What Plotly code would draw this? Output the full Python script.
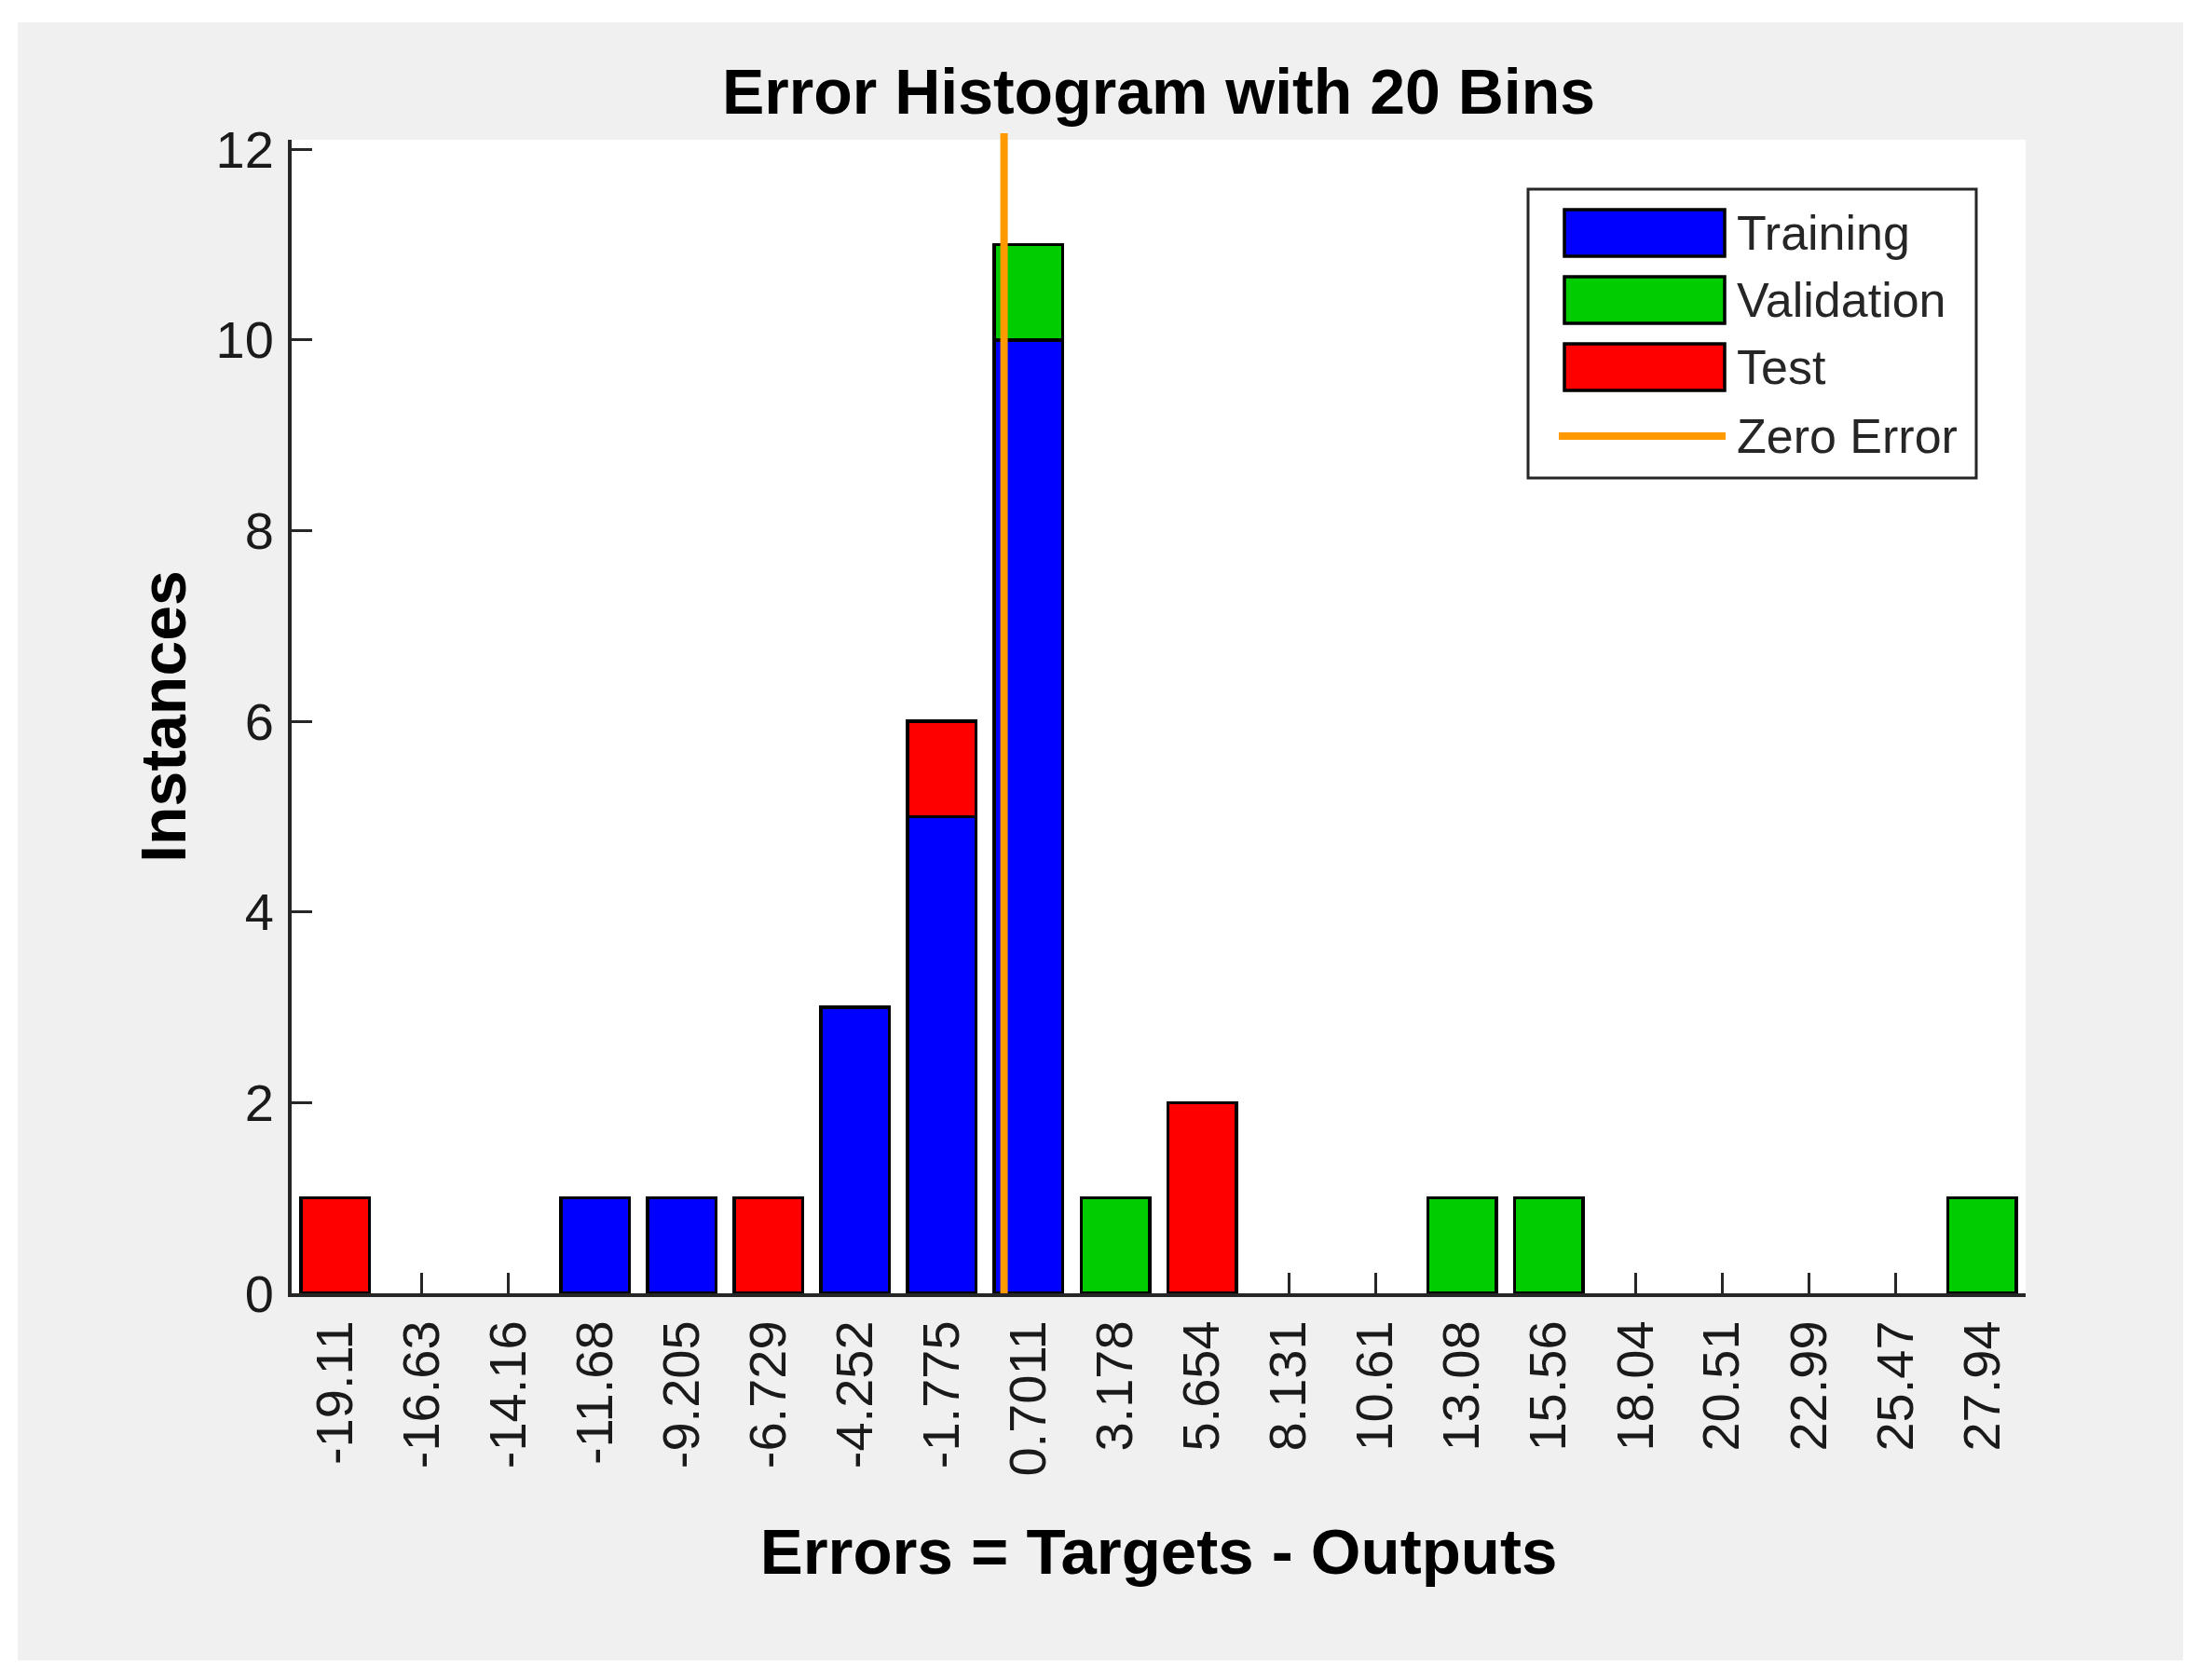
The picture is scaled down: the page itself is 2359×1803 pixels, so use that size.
import plotly.graph_objects as go

# ---------------- data ----------------
bin_labels = ["-19.11", "-16.63", "-14.16", "-11.68", "-9.205", "-6.729", "-4.252",
              "-1.775", "0.7011", "3.178", "5.654", "8.131", "10.61", "13.08",
              "15.56", "18.04", "20.51", "22.99", "25.47", "27.94"]
training   = [0, 0, 0, 1, 1, 0, 3, 5, 10, 0, 0, 0, 0, 0, 0, 0, 0, 0, 0, 0]
validation = [0, 0, 0, 0, 0, 0, 0, 0, 1, 1, 0, 0, 0, 1, 1, 0, 0, 0, 0, 1]
test       = [1, 0, 0, 0, 0, 1, 0, 1, 0, 0, 2, 0, 0, 0, 0, 0, 0, 0, 0, 0]
zero_error = 0.0
y_ticks = [0, 2, 4, 6, 8, 10, 12]
series_names = ["Training", "Validation", "Test", "Zero Error"]

# ---------------- layout geometry ----------------
# page body has an 8px margin, so the figure is 16px smaller and
# reference page coordinates are shifted by 8px.
OFF = 8
PAGE_W, PAGE_H = 2359, 1803
W, H = PAGE_W - 2 * OFF, PAGE_H - 2 * OFF
L, R, T, B = 313 - OFF, 2174 - OFF, 150 - OFF, 1388 - OFF
PW, PH = R - L, B - T

def px(ref_x):
    return (ref_x - OFF - L) / PW

def py(ref_y):
    return (B - (ref_y - OFF)) / PH

centers = [float(s) for s in bin_labels]
binw = (centers[-1] - centers[0]) / (len(centers) - 1)

FONT = "Liberation Sans, Arial, Helvetica, sans-serif"
AX = "#262626"
colors = {"Training": "#0000FF", "Validation": "#00CC00", "Test": "#FF0000"}
ORANGE = "#FF9900"

def nz(v):
    return [x if x else None for x in v]

fig = go.Figure()
for name, vals in zip(series_names[:3], [training, validation, test]):
    fig.add_trace(go.Bar(
        x=centers, y=nz(vals), name=name, width=0.79 * binw,
        marker=dict(color=colors[name], line=dict(color="black", width=3.5)),
        showlegend=False,
    ))

shapes = []
# white outer frame around the grey figure background (reference page coords)
for (x0, y0, x1, y1) in [(0, 0, PAGE_W, 24), (0, 1782, PAGE_W, PAGE_H),
                         (0, 0, 19, PAGE_H), (2343, 0, PAGE_W, PAGE_H)]:
    shapes.append(dict(type="rect", xref="paper", yref="paper",
                       x0=px(x0), x1=px(x1), y0=py(y1), y1=py(y0),
                       fillcolor="white", line=dict(width=0), layer="below"))
# zero error line
shapes.append(dict(type="line", xref="x", yref="paper", x0=zero_error, x1=zero_error,
                   y0=0, y1=py(143), line=dict(color=ORANGE, width=8), layer="above"))

# custom legend (MATLAB style)
shapes.append(dict(type="rect", xref="paper", yref="paper",
                   x0=px(1640), x1=px(2121), y0=py(513), y1=py(203),
                   fillcolor="white", line=dict(color=AX, width=3), layer="above"))
row_y = [250, 322, 394, 468]
annotations = []
for i, name in enumerate(series_names):
    yc = row_y[i]
    if i < 3:
        shapes.append(dict(type="rect", xref="paper", yref="paper",
                           x0=px(1679), x1=px(1851), y0=py(yc + 25), y1=py(yc - 25),
                           fillcolor=colors[name], line=dict(color="black", width=3.5),
                           layer="above"))
    else:
        shapes.append(dict(type="line", xref="paper", yref="paper",
                           x0=px(1673), x1=px(1852), y0=py(yc), y1=py(yc),
                           line=dict(color=ORANGE, width=8), layer="above"))
    annotations.append(dict(xref="paper", yref="paper", x=px(1862), y=py(yc),
                            xanchor="left", yanchor="middle", showarrow=False,
                            text=name, font=dict(family=FONT, size=52, color=AX)))

fig.update_layout(
    width=W, height=H,
    margin=dict(l=L, r=W - R, t=T, b=H - B, pad=0),
    paper_bgcolor="#F0F0F0", plot_bgcolor="white",
    barmode="stack", bargap=0.2,
    font=dict(family=FONT, color=AX, size=56),
    title=dict(text="Error Histogram with 20 Bins",
               font=dict(family=FONT, size=68, color="black", weight="bold"),
               x=(L + R) / 2 / W, xanchor="center",
               y=1 - 90 / H, yanchor="middle", yref="container"),
    xaxis=dict(
        range=[centers[0] - binw / 2, centers[-1] + binw / 2],
        tickmode="array", tickvals=centers, ticktext=bin_labels,
        tickangle=-90, ticks="inside", ticklen=22, tickwidth=3, tickcolor=AX,
        showline=True, linewidth=4, linecolor=AX, showgrid=False, zeroline=False,
        tickfont=dict(family=FONT, size=56, color="#1a1a1a"),
        ticklabelstandoff=3,
        layer="below traces",
        title=dict(text="Errors = Targets - Outputs", standoff=58,
                   font=dict(family=FONT, size=69, color="black", weight="bold")),
    ),
    yaxis=dict(
        range=[0, 12.1], tickmode="array", tickvals=y_ticks,
        ticks="inside", ticklen=22, tickwidth=3, tickcolor=AX,
        showline=True, linewidth=4, linecolor=AX, showgrid=False, zeroline=False,
        tickfont=dict(family=FONT, size=56, color="#1a1a1a"),
        ticklabelstandoff=4,
        title=dict(text="Instances", standoff=11,
                   font=dict(family=FONT, size=68, color="black", weight="bold")),
    ),
    shapes=shapes,
    annotations=annotations,
    showlegend=False,
)

fig.write_html("out.html")
